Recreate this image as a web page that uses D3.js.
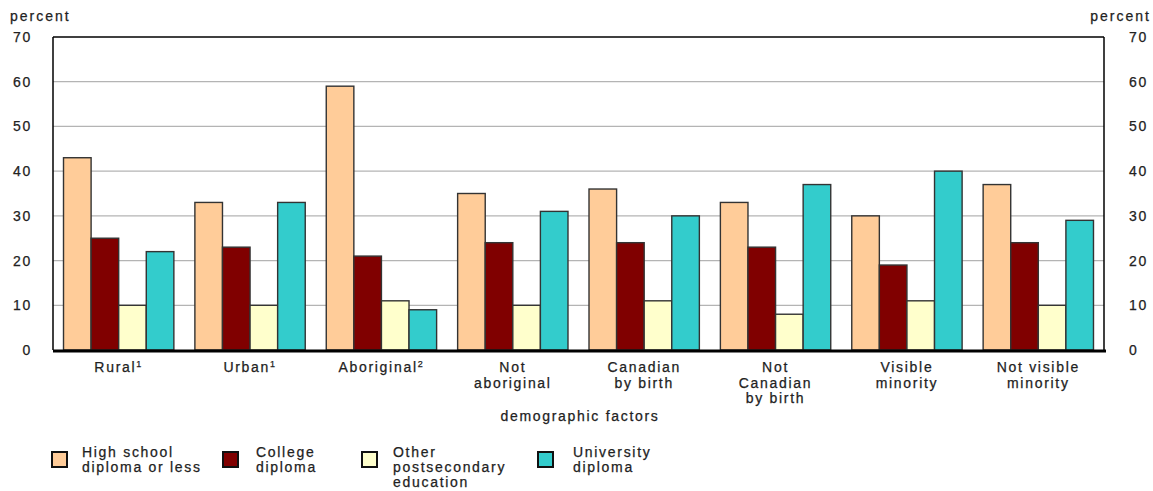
<!DOCTYPE html>
<html><head><meta charset="utf-8">
<script src="https://cdn.jsdelivr.net/npm/d3@7"></script>
<style>
body{margin:0;background:#fff;}
text{font-family:"Liberation Sans",Arial,sans-serif;fill:#222;stroke:#222;stroke-width:0.25px;}
</style></head><body>
<svg id="c" width="1153" height="491"></svg>
<script>
const categories = ["Rural","Urban","Aboriginal","Not aboriginal","Canadian by birth","Not Canadian by birth","Visible minority","Not visible minority"];
const categoryLines = [["Rural"],["Urban"],["Aboriginal"],["Not","aboriginal"],["Canadian","by birth"],["Not","Canadian","by birth"],["Visible","minority"],["Not visible","minority"]];
const categorySup = ["1","1","2","","","","",""];
const seriesNames = ["High school diploma or less","College diploma","Other postsecondary education","University diploma"];
const seriesLegendLines = [["High school","diploma or less"],["College","diploma"],["Other","postsecondary","education"],["University","diploma"]];
const highSchool = [43,33,59,35,36,33,30,37];
const college = [25,23,21,24,24,23,19,24];
const otherPost = [10,10,11,10,11,8,11,10];
const university = [22,33,9,31,30,37,40,29];
const yTicks = [0,10,20,30,40,50,60,70];
const colors = ["#FFCC99","#800000","#FFFFCC","#33CCCC"];
const series = [highSchool,college,otherPost,university];

const svg = d3.select("#c");
const L=53, R=1104, T=37, B=350;
const x0 = d3.scaleBand().domain(categories).range([L,R]).paddingInner(0.16).paddingOuter(0.08);
const x1 = d3.scaleBand().domain(d3.range(4)).range([0,x0.bandwidth()]);
const y = d3.scaleLinear().domain([0,70]).range([B,T]);

// gridlines
svg.append("g").selectAll("line").data(yTicks.filter(d=>d>0&&d<70)).join("line")
  .attr("x1",L).attr("x2",R).attr("y1",d=>y(d)).attr("y2",d=>y(d))
  .attr("stroke","#b4b4b4").attr("stroke-width",1.2);

// bars
const g = svg.append("g");
categories.forEach((c,i)=>{
  series.forEach((s,j)=>{
    g.append("rect").attr("x",x0(c)+x1(j)).attr("y",y(s[i]))
     .attr("width",x1.bandwidth()).attr("height",B-y(s[i]))
     .attr("fill",colors[j]).attr("stroke","#333").attr("stroke-width",1.4);
  });
});

// frame
svg.append("line").attr("x1",L).attr("x2",R).attr("y1",T).attr("y2",T).attr("stroke","#000").attr("stroke-width",1.5);
svg.append("line").attr("x1",L).attr("x2",L).attr("y1",T).attr("y2",B).attr("stroke","#000").attr("stroke-width",1.5);
svg.append("line").attr("x1",R).attr("x2",R).attr("y1",T).attr("y2",B).attr("stroke","#000").attr("stroke-width",1.5);
svg.append("line").attr("x1",L).attr("x2",R+2).attr("y1",B+1).attr("y2",B+1).attr("stroke","#000").attr("stroke-width",3);

const fs = "14px";
const ls = "1.7px";
// y axis labels
const yl = d3.axisLeft(y).tickValues(yTicks).tickSize(0).tickPadding(0);
const leftG = svg.append("g").attr("transform",`translate(32,0)`).call(yl);
leftG.select(".domain").remove();
leftG.selectAll("text").style("font-size",fs).style("letter-spacing",ls).attr("fill","#222").attr("font-family",null);
const yr = d3.axisRight(y).tickValues(yTicks).tickSize(0).tickPadding(0);
const rightG = svg.append("g").attr("transform",`translate(1129,0)`).call(yr);
rightG.select(".domain").remove();
rightG.selectAll("text").style("font-size",fs).style("letter-spacing",ls).attr("fill","#222").attr("font-family",null);

svg.append("text").attr("x",10).attr("y",21).style("font-size","14px").style("letter-spacing","2px").text("percent");
svg.append("text").attr("x",1151).attr("y",21).attr("text-anchor","end").style("font-size","14px").style("letter-spacing","2px").text("percent");

// category labels
categories.forEach((c,i)=>{
  const cx = x0(c)+x0.bandwidth()/2;
  const t = svg.append("text").attr("x",cx).attr("y",372).attr("text-anchor","middle").style("font-size",fs).style("letter-spacing",ls);
  categoryLines[i].forEach((ln,k)=>{
    const ts = t.append("tspan").attr("x",cx).attr("dy",k===0?0:15.5).text(ln);
    if(k===categoryLines[i].length-1 && categorySup[i]){
      ts.append("tspan").attr("dy",-5).style("font-size","9px").text(categorySup[i]);
    }
  });
});
svg.append("text").attr("x",580).attr("y",421).attr("text-anchor","middle").style("font-size",fs).style("letter-spacing",ls).text("demographic factors");

// legend
const legX = [52,223,362,538];
const legTX = [82,256,393,573];
seriesNames.forEach((n,j)=>{
  svg.append("rect").attr("x",legX[j]).attr("y",452).attr("width",15).attr("height",15)
    .attr("fill",colors[j]).attr("stroke","#111").attr("stroke-width",2);
  const t = svg.append("text").attr("x",legTX[j]).attr("y",457).style("font-size",fs).style("letter-spacing",ls);
  seriesLegendLines[j].forEach((ln,k)=>t.append("tspan").attr("x",legTX[j]).attr("dy",k===0?0:15).text(ln));
});
</script>
</body></html>
